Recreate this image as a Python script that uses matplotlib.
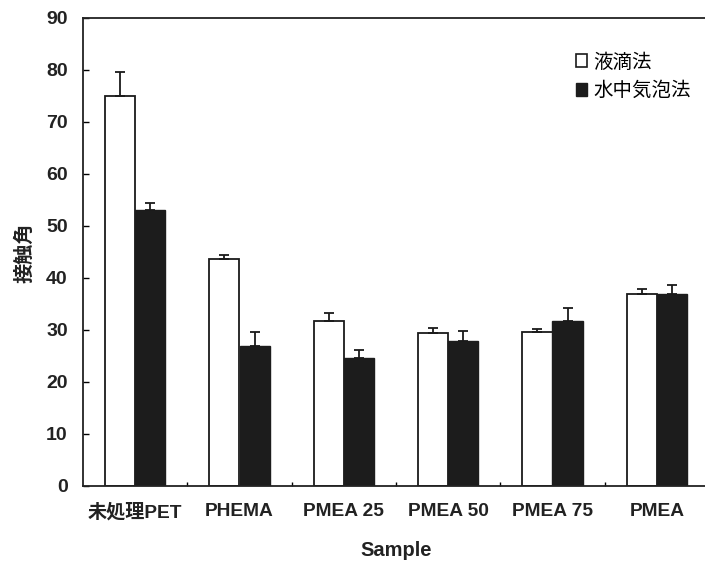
import matplotlib
matplotlib.use("Agg")
import matplotlib.pyplot as plt
from matplotlib.patches import Patch
import numpy as np

# Contact angle by sample and measurement method
samples = ["未処理PET", "PHEMA", "PMEA 25", "PMEA 50", "PMEA 75", "PMEA"]
droplet = [75.0, 43.6, 31.7, 29.4, 29.7, 37.0]
droplet_err = [4.6, 0.9, 1.5, 1.0, 0.5, 0.8]
bubble = [53.0, 26.9, 24.6, 27.8, 31.7, 37.0]
bubble_err = [1.5, 2.7, 1.5, 2.1, 2.5, 1.6]
series_names = ["液滴法", "水中気泡法"]
y_ticks = [0, 10, 20, 30, 40, 50, 60, 70, 80, 90]

LATIN_CJK = ["Liberation Sans", "Noto Sans CJK JP"]
CJK = ["Noto Sans CJK JP", "DejaVu Sans"]

fig = plt.figure(figsize=(7.05, 5.63), dpi=100)
ax = fig.add_axes([83 / 705, 77 / 563, 626 / 705, 468 / 563])

x = np.arange(len(samples))
w = 0.29
ax.bar(x - w / 2, droplet, w, color="white", edgecolor="#1a1a1a", linewidth=1.3,
       yerr=[np.zeros(len(droplet)), droplet_err], capsize=3.5,
       error_kw=dict(ecolor="#1a1a1a", elinewidth=1.3, capthick=1.3), zorder=2)
ax.bar(x + w / 2, bubble, w, color="#1c1c1c", edgecolor="#1c1c1c", linewidth=1.0,
       yerr=[np.zeros(len(bubble)), bubble_err], capsize=3.5,
       error_kw=dict(ecolor="#1a1a1a", elinewidth=1.3, capthick=1.3), zorder=2)

ax.set_xlim(-0.5, len(samples) - 0.5)
ax.set_ylim(0, 90)
ax.set_yticks(y_ticks)
ax.set_xticks(x)
ax.set_xticklabels(samples, fontsize=13.8, fontweight="bold", family=LATIN_CJK,
                   color="#222222")
ax.set_xticks(np.arange(len(samples) - 1) + 0.5, minor=True)
ax.tick_params(axis="x", which="major", length=0, pad=12)
ax.tick_params(axis="x", which="minor", direction="in", length=3, width=1)
ax.tick_params(axis="y", direction="in", length=4, width=1, pad=11)
for lab in ax.get_yticklabels():
    lab.set_fontsize(14)
    lab.set_fontweight("bold")
    lab.set_family(LATIN_CJK)
    lab.set_color("#222222")

for s in ax.spines.values():
    s.set_linewidth(1.3)
    s.set_color("#222222")

ax.set_xlabel("Sample", fontsize=14.5, fontweight="bold", family=LATIN_CJK,
              labelpad=14, color="#222222")
fig.text(24 / 705, 1 - 253 / 563, "接触角", rotation=90, ha="center", va="center",
         fontsize=14.5, fontweight="bold", family=CJK, color="#222222")

handles = [Patch(facecolor="white", edgecolor="#1a1a1a", linewidth=1.2),
           Patch(facecolor="#1c1c1c", edgecolor="#1c1c1c")]
fig.legend(handles, series_names, loc="upper left", bbox_to_anchor=(558 / 705, 1 - 34 / 563),
           frameon=False, prop={"family": CJK, "size": 14},
           handlelength=0.6, handleheight=0.6, handletextpad=0.3, labelspacing=0.4)

fig.savefig("out.png", dpi=100)
